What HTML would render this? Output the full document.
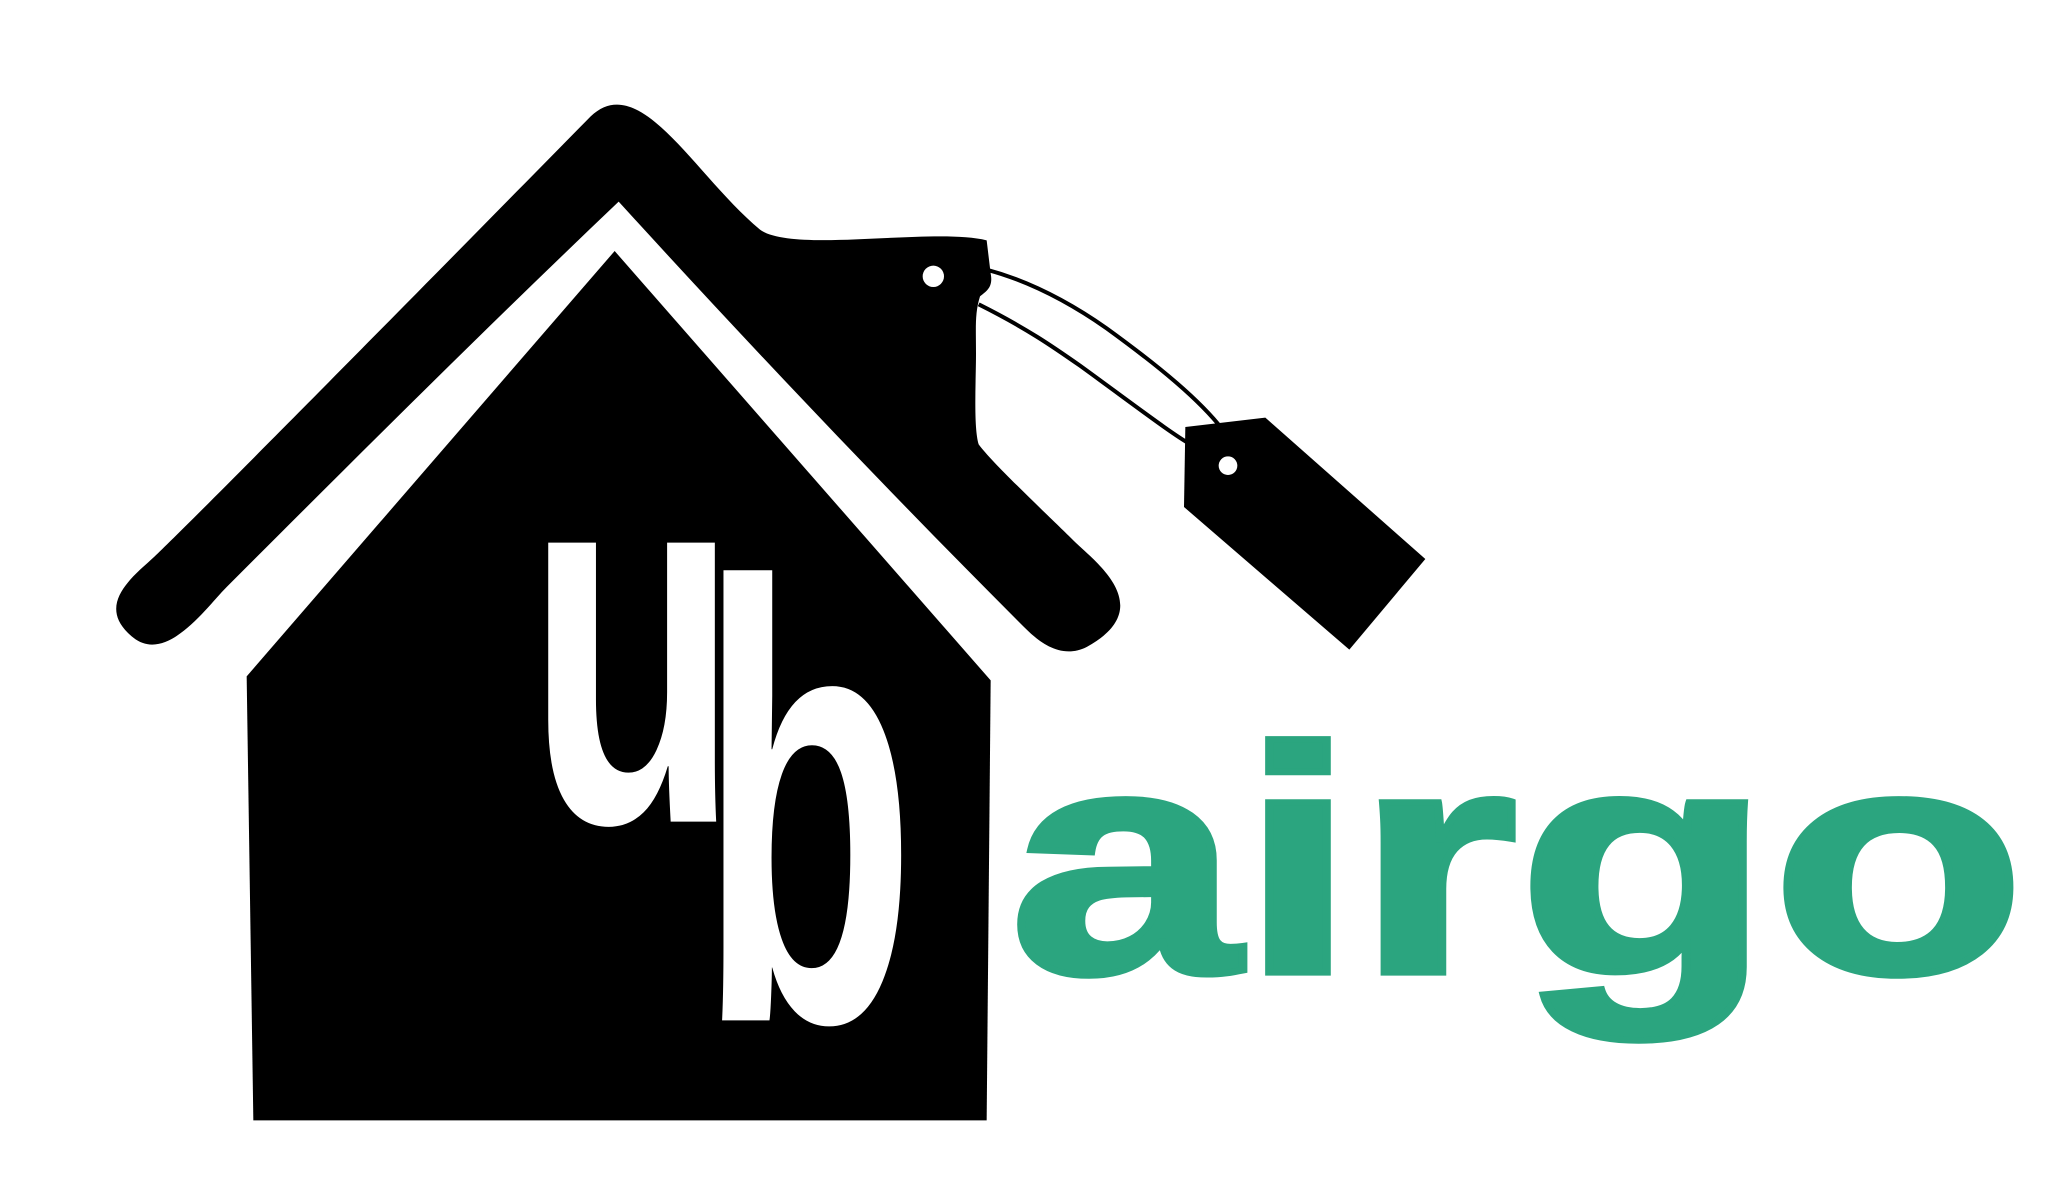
<!DOCTYPE html>
<html><head><meta charset="utf-8"><style>
html,body{margin:0;padding:0;background:#fff;width:2072px;height:1178px;overflow:hidden}
svg{display:block}
</style></head><body>
<svg width="2072" height="1178" viewBox="0 0 1554 883" xmlns="http://www.w3.org/2000/svg">
<rect width="1554" height="883" fill="#fff"/>
<path fill="#000" d="M443 87 C 480 52 520 130 570 172 C 595 190 700 170 740 180 L 743 205 C 745 215 740 218 735 222 C 731 235 732 245 732 265 C 732 285 730 320 734 333 C 745 348 790 390 805 405 C 820 420 870 455 815 485 C 795 495 778 480 768 470 C 668 370 568 265 464 151 C 360 250 260 350 170 440 C 155 455 125 498 100 478 C 70 454 100 432 115 418 C 130 404 220 314 443 87 Z"/>
<circle cx="700" cy="207" r="8" fill="#fff"/>
<path fill="none" stroke="#000" stroke-width="3" d="M740 202 C 770 210 800 225 830 246 C 870 275 900 300 917 322 M734 228 C 770 246 790 260 810 274 C 850 303 880 326 893 333"/>
<path fill="#000" d="M889 320 L949 313 L1069 419 L1012 487 L888 380 Z"/>
<circle cx="921" cy="349" r="7" fill="#fff"/>
<path fill="#000" d="M185 507 L461 188 L743 510 L740 840 L190 840 Z"/>
<text transform="translate(395,616) scale(0.555,0.843)" font-family="Liberation Sans, sans-serif" font-weight="700" font-size="470" fill="#fff">u</text>
<text transform="translate(524,765) scale(0.5,0.874)" font-family="Liberation Sans, sans-serif" font-weight="700" font-size="533" fill="#fff">b</text>
<text x="757" y="729" textLength="762" lengthAdjust="spacingAndGlyphs" font-family="Liberation Sans, sans-serif" font-weight="700" font-size="241" fill="#2BA57F" stroke="#2BA57F" stroke-width="5">airgo</text>
</svg>
</body></html>
